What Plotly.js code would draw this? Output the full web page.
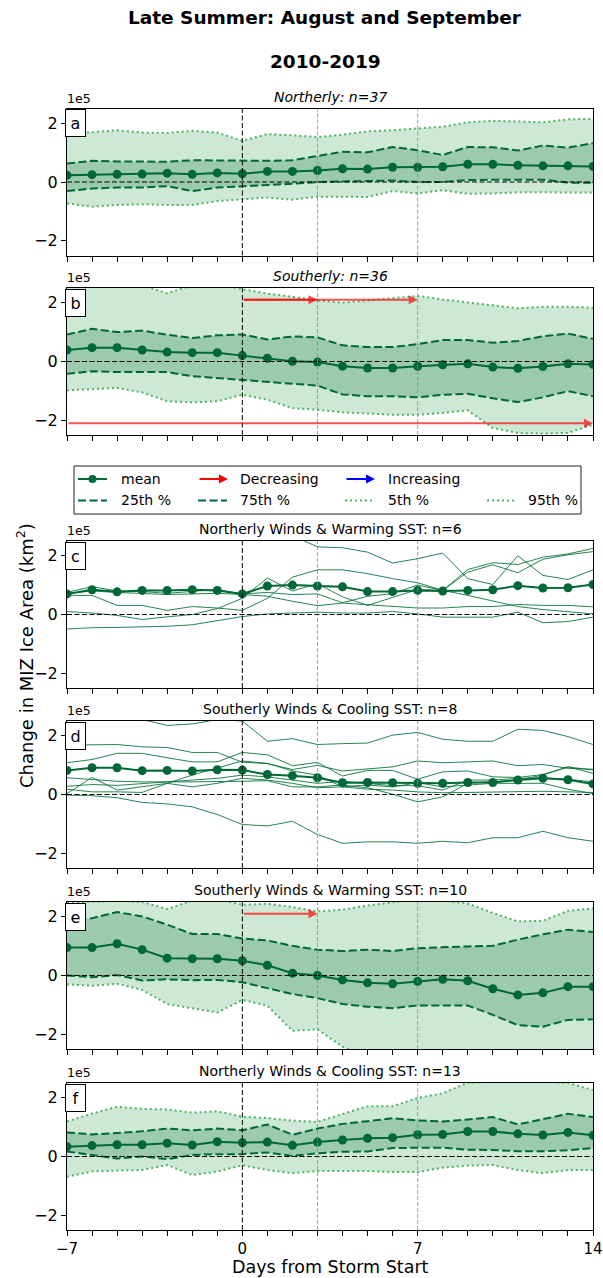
<!DOCTYPE html>
<html><head><meta charset="utf-8">
<script src="https://cdn.plot.ly/plotly-3.0.1.min.js"></script>
<style>html,body{margin:0;padding:0;background:#fff}#chart{width:603px;height:1278px}</style>
</head><body><div id="chart"></div>
<script>
const days = [-7,-6,-5,-4,-3,-2,-1,0,1,2,3,4,5,6,7,8,9,10,11,12,13,14];
const xTickVals = [-7,0,7,14];
const xTickText = ['−7','0','7','14'];
const yTickVals = [-2,0,2];
const yTickText = ['−2','0','2'];

// Panel a: Northerly
const aMean = [0.23,0.25,0.26,0.27,0.30,0.26,0.31,0.28,0.36,0.36,0.39,0.45,0.44,0.50,0.50,0.52,0.60,0.60,0.57,0.55,0.55,0.53];
const a75 = [0.63,0.72,0.70,0.70,0.69,0.74,0.73,0.72,0.72,0.74,0.89,1.03,1.01,1.19,1.08,0.92,1.19,1.18,1.07,1.24,1.17,1.32];
const a25 = [-0.31,-0.22,-0.19,-0.19,-0.14,-0.31,-0.19,-0.15,-0.10,-0.06,0.00,0.01,0.02,0.05,0.00,0.00,0.07,0.07,0.09,0.08,-0.02,-0.03];
const a95 = [1.63,1.70,1.76,1.68,1.67,1.74,1.68,1.40,1.63,1.59,1.53,1.61,1.72,1.76,1.83,1.88,2.03,2.08,2.06,2.03,2.13,2.15];
const a5 = [-0.73,-0.84,-0.78,-0.76,-0.78,-0.78,-0.65,-0.59,-0.53,-0.60,-0.50,-0.50,-0.51,-0.31,-0.39,-0.28,-0.40,-0.39,-0.35,-0.35,-0.35,-0.36];

// Panel b: Southerly
const bMean = [0.39,0.47,0.47,0.39,0.32,0.30,0.30,0.20,0.11,0.01,-0.02,-0.16,-0.22,-0.22,-0.16,-0.11,-0.08,-0.19,-0.23,-0.17,-0.08,-0.10];
const b75 = [0.92,1.11,1.00,1.05,0.91,0.80,0.89,0.92,0.75,0.85,0.82,0.55,0.49,0.49,0.59,0.73,0.73,0.64,0.70,0.86,0.95,0.77];
const b25 = [-0.42,-0.33,-0.36,-0.36,-0.36,-0.50,-0.56,-0.64,-0.70,-0.75,-0.82,-1.12,-1.18,-1.18,-1.22,-1.13,-1.10,-1.25,-1.38,-1.22,-1.01,-1.18];
const b95 = [2.70,2.70,2.70,2.59,2.32,2.59,2.65,2.46,2.31,2.20,2.08,2.00,2.08,2.14,2.23,2.11,2.02,1.91,1.81,1.86,1.86,1.83];
const b5 = [-0.98,-0.93,-0.90,-1.05,-1.35,-1.39,-1.35,-1.13,-1.30,-1.59,-1.64,-1.73,-1.77,-1.81,-1.81,-1.75,-1.66,-2.26,-2.43,-2.45,-2.43,-2.15];

// Panel c: Northerly Winds & Warming SST (individual events + mean)
const cMean = [0.70,0.84,0.77,0.82,0.82,0.84,0.82,0.70,0.97,1.00,0.97,0.94,0.78,0.78,0.82,0.80,0.82,0.84,0.98,0.90,0.91,1.02];
const c1 = [2.80,2.80,2.80,2.80,2.80,2.80,2.80,2.80,2.75,2.68,2.30,2.27,2.12,1.75,1.90,2.09,1.22,1.02,2.00,1.33,1.19,1.52];
const c2 = [0.65,0.65,0.31,0.31,0.14,0.27,0.22,0.14,0.55,1.27,1.52,1.52,1.39,1.22,1.08,0.82,0.65,0.45,0.27,0.17,0.10,0.02];
const c3 = [-0.49,-0.45,-0.44,-0.42,-0.40,-0.35,-0.20,-0.07,0.02,0.04,0.08,0.05,0.05,0.10,0.02,-0.09,-0.09,-0.09,0.08,-0.28,-0.24,-0.09];
const c4 = [0.10,0.05,-0.03,-0.17,-0.08,0.00,0.20,0.55,1.24,0.80,1.05,0.60,0.31,0.57,0.85,0.82,1.53,1.76,1.70,1.95,2.06,2.25];
const c5 = [0.75,0.95,0.80,0.78,0.72,0.78,0.85,0.70,0.75,0.68,0.70,0.40,0.62,0.71,1.00,0.82,1.44,1.69,1.42,1.88,2.03,2.14];
const c6 = [0.72,0.80,0.75,0.72,0.68,0.70,0.72,0.68,0.62,0.45,0.30,0.39,0.33,0.27,0.22,0.22,0.27,0.27,0.34,0.31,0.31,0.26];

// Panel d: Southerly Winds & Cooling SST
const dMean = [0.82,0.91,0.91,0.81,0.82,0.80,0.84,0.83,0.68,0.64,0.57,0.40,0.41,0.40,0.38,0.38,0.41,0.41,0.49,0.55,0.50,0.36];
const d1 = [2.70,2.70,2.70,2.55,2.35,2.40,2.55,2.50,1.81,1.90,1.70,1.73,1.75,2.02,2.11,1.88,1.81,1.81,2.22,2.18,1.97,1.70];
const d2 = [1.68,1.70,1.70,1.62,1.60,1.43,1.43,1.10,1.05,0.85,0.99,0.80,0.86,0.94,1.14,1.08,1.11,1.14,0.98,1.02,0.89,0.86];
const d3 = [1.08,1.19,1.40,1.40,1.25,1.11,1.11,1.43,1.35,0.98,1.09,0.63,0.82,0.82,0.52,0.77,0.80,0.60,0.58,0.68,0.94,0.72];
const d4 = [0.57,0.52,0.45,0.43,0.43,0.49,0.55,0.66,0.60,0.49,0.38,0.45,0.38,0.30,0.30,0.15,0.49,0.49,0.55,0.57,0.52,0.43];
const d5 = [0.28,0.34,0.31,0.36,0.43,0.43,0.43,0.45,0.47,0.26,0.26,0.32,0.23,0.01,-0.25,-0.08,0.38,0.43,0.49,0.66,0.94,0.83];
const d6 = [0.03,0.58,0.15,0.26,0.38,0.66,0.89,1.14,1.06,0.80,0.66,0.26,0.18,0.15,0.09,0.06,0.07,0.09,0.11,0.11,0.09,0.07];
const d7 = [0.18,0.09,0.09,0.07,0.38,0.26,0.38,0.55,0.49,0.38,0.23,0.26,0.32,0.26,0.40,0.26,0.32,0.38,0.38,0.38,0.18,0.03];
const d8 = [-0.02,-0.04,-0.11,-0.27,-0.32,-0.42,-0.68,-1.02,-1.07,-0.91,-1.36,-1.66,-1.61,-1.61,-1.66,-1.59,-1.64,-1.47,-1.47,-1.25,-1.47,-1.59];

// Panel e: Southerly Winds & Warming SST
const eMean = [0.95,0.95,1.08,0.88,0.59,0.57,0.57,0.50,0.35,0.08,0.00,-0.15,-0.25,-0.28,-0.20,-0.13,-0.18,-0.45,-0.66,-0.59,-0.38,-0.38];
const e75 = [1.84,1.95,2.16,2.01,1.73,1.41,1.41,1.26,1.19,1.01,0.88,0.83,0.88,0.83,0.93,0.97,0.99,1.01,1.22,1.40,1.56,1.48];
const e25 = [0.00,-0.06,0.02,-0.17,-0.13,-0.16,-0.15,-0.23,-0.43,-0.63,-0.77,-0.97,-1.06,-1.11,-1.02,-1.02,-1.02,-1.34,-1.69,-1.74,-1.51,-1.49];
const e95 = [2.47,2.50,2.55,2.50,2.26,2.55,2.60,2.41,2.44,2.33,2.18,2.24,2.38,2.49,2.60,2.55,2.45,2.13,1.84,1.86,2.20,2.28];
const e5 = [-0.30,-0.35,-0.28,-0.49,-0.97,-1.11,-1.26,-0.83,-1.03,-1.88,-1.83,-2.42,-2.75,-2.90,-3.00,-3.00,-3.00,-3.00,-3.00,-3.00,-3.00,-3.00];

// Panel f: Northerly Winds & Cooling SST
const fMean = [0.33,0.37,0.40,0.40,0.45,0.39,0.50,0.47,0.49,0.38,0.49,0.56,0.62,0.64,0.74,0.75,0.85,0.85,0.77,0.73,0.82,0.72];
const f75 = [0.82,0.75,0.80,0.86,0.95,0.89,0.95,0.89,1.09,0.74,0.95,1.11,1.20,1.30,1.23,1.19,1.26,1.34,1.09,1.26,1.45,1.34];
const f25 = [0.17,0.06,-0.07,0.00,-0.09,0.05,0.08,0.08,0.14,0.02,0.11,0.16,0.17,0.29,0.29,0.30,0.23,0.22,0.18,0.18,0.21,0.29];
const f95 = [1.19,1.46,1.69,1.62,1.60,1.49,1.54,1.35,1.31,1.22,1.18,1.45,1.71,1.71,1.99,2.15,2.51,2.55,2.55,2.55,2.50,2.26];
const f5 = [-0.69,-0.51,-0.48,-0.46,-0.29,-0.63,-0.51,-0.30,-0.46,-0.57,-0.49,-0.49,-0.49,-0.53,-0.53,-0.38,-0.31,-0.29,-0.46,-0.57,-0.46,-0.46];

// Arrows (start day, end day, level) for panels b and e
const bArrows = [[0,3,2.1],[0,7,2.1],[-7,14,-2.1]];
const eArrows = [[0,3,2.1]];

// ---------- styling / layout ----------
const W = 603, H = 1278, L = 67, R = 593;
const PH = 147;
const px2x = p => (p - L) / (R - L);
const px2y = p => 1 - p / H;
const DARK = '#006837';
const DOT = '#4fb264';
const OUTER = '#cde8d5';
const INNER = '#9ccaac';
const FONT = 'DejaVu Sans, sans-serif';
const ARROW_RED = 'rgba(255,0,0,0.68)';

const panels = [
  {letter:'a', title:'<i>Northerly: n=37</i>', top:108.5, mean:aMean, p5:a5, p25:a25, p75:a75, p95:a95, arrows:[]},
  {letter:'b', title:'<i>Southerly: n=36</i>', top:288, mean:bMean, p5:b5, p25:b25, p75:b75, p95:b95, arrows:bArrows},
  {letter:'c', title:'Northerly Winds &amp; Warming SST: n=6', top:541, mean:cMean, lines:[c1,c2,c3,c4,c5,c6], arrows:[]},
  {letter:'d', title:'Southerly Winds &amp; Cooling SST: n=8', top:721, mean:dMean, lines:[d1,d2,d3,d4,d5,d6,d7,d8], arrows:[]},
  {letter:'e', title:'Southerly Winds &amp; Warming SST: n=10', top:902, mean:eMean, p5:e5, p25:e25, p75:e75, p95:e95, arrows:eArrows},
  {letter:'f', title:'Northerly Winds &amp; Cooling SST: n=13', top:1083, mean:fMean, p5:f5, p25:f25, p75:f75, p95:f95, arrows:[]}
];

const traces = [];
const shapes = [];
const annotations = [];
const layout = {
  width: W, height: H,
  margin: {l: L, r: W - R, t: 0, b: 0},
  paper_bgcolor: '#fff', plot_bgcolor: '#fff',
  showlegend: false,
  font: {family: FONT, size: 14, color: '#000'}
};

panels.forEach((p, i) => {
  const n = i === 0 ? '' : String(i + 1);
  const xa = 'x' + n, ya = 'y' + n;
  const last = i === panels.length - 1;
  layout['xaxis' + n] = {
    domain: [0, 1], range: [-7, 14], anchor: ya,
    tickvals: xTickVals, ticktext: xTickText, showticklabels: last,
    ticklabeloverflow: 'allow',
    ticks: 'outside', ticklen: 5, tickwidth: 1, tickcolor: '#000',
    minor: {dtick: 1, tick0: 0, ticks: 'outside', ticklen: 5, tickwidth: 1, tickcolor: '#000'},
    showline: true, mirror: true, linecolor: '#000', linewidth: 1,
    showgrid: false, zeroline: false, fixedrange: true,
    tickfont: {size: 15, family: FONT}
  };
  layout['yaxis' + n] = {
    domain: [px2y(p.top + PH), px2y(p.top)], range: [-2.5, 2.5], anchor: xa,
    tickvals: yTickVals, ticktext: yTickText,
    ticks: 'outside', ticklen: 5, tickwidth: 1, tickcolor: '#000',
    showline: true, mirror: true, linecolor: '#000', linewidth: 1,
    showgrid: false, zeroline: false, fixedrange: true,
    tickfont: {size: 16, family: FONT}
  };
  const base = {x: days, xaxis: xa, yaxis: ya, hoverinfo: 'skip', showlegend: false};
  if (p.p5) {
    traces.push(Object.assign({}, base, {y: p.p5, mode: 'lines', line: {width: 0}}));
    traces.push(Object.assign({}, base, {y: p.p95, mode: 'lines', line: {width: 0}, fill: 'tonexty', fillcolor: OUTER}));
    traces.push(Object.assign({}, base, {y: p.p25, mode: 'lines', line: {width: 0}}));
    traces.push(Object.assign({}, base, {y: p.p75, mode: 'lines', line: {width: 0}, fill: 'tonexty', fillcolor: INNER}));
    traces.push(Object.assign({}, base, {y: p.p5, mode: 'lines', line: {color: DOT, width: 2, dash: '2px,3px'}}));
    traces.push(Object.assign({}, base, {y: p.p95, mode: 'lines', line: {color: DOT, width: 2, dash: '2px,3px'}}));
    traces.push(Object.assign({}, base, {y: p.p25, mode: 'lines', line: {color: DARK, width: 2, dash: '8px,3.5px'}}));
    traces.push(Object.assign({}, base, {y: p.p75, mode: 'lines', line: {color: DARK, width: 2, dash: '8px,3.5px'}}));
  }
  if (p.lines) {
    p.lines.forEach(l => traces.push(Object.assign({}, base, {y: l, mode: 'lines', line: {color: 'rgba(0,110,50,0.85)', width: 1}})));
  }
  traces.push(Object.assign({}, base, {y: p.mean, mode: 'lines+markers', line: {color: DARK, width: 2}, marker: {color: DARK, size: 9}, cliponaxis: true}));

  // reference lines
  shapes.push({type: 'line', xref: xa + ' domain', yref: ya, x0: 0, x1: 1, y0: 0, y1: 0, line: {color: '#000', width: 1, dash: '5px,2.5px'}, layer: 'above'});
  shapes.push({type: 'line', xref: xa, yref: ya + ' domain', x0: 0, x1: 0, y0: 0, y1: 1, line: {color: '#000', width: 1, dash: '5px,2.5px'}, layer: 'above'});
  [3, 7].forEach(v => shapes.push({type: 'line', xref: xa, yref: ya + ' domain', x0: v, x1: v, y0: 0, y1: 1, line: {color: '#8a8a8a', width: 0.8, dash: '4px,2px'}, layer: 'above'}));

  // arrows
  p.arrows.forEach(a => annotations.push({
    xref: xa, yref: ya, axref: xa, ayref: ya, x: a[1], y: a[2], ax: a[0], ay: a[2],
    text: '', showarrow: true, arrowhead: 2, arrowsize: 1, arrowwidth: 1.8, arrowcolor: ARROW_RED, standoff: 0, startstandoff: 0
  }));

  // panel title
  annotations.push({xref: 'paper', yref: 'paper', x: px2x(330), y: px2y(p.top - 12), xanchor: 'center', yanchor: 'middle',
    text: p.title, showarrow: false, font: {size: 14, family: FONT}});
  // 1e5 offset label
  annotations.push({xref: 'paper', yref: 'paper', x: px2x(65), y: px2y(p.top - 1), xanchor: 'left', yanchor: 'bottom',
    text: '1e5', showarrow: false, font: {size: 12.5, family: FONT}});
  // letter box
  annotations.push({xref: 'paper', yref: 'paper', x: px2x(65), y: px2y(p.top + 1), xanchor: 'left', yanchor: 'top',
    text: p.letter, showarrow: false, font: {size: 16, family: FONT}, bgcolor: '#fff', bordercolor: '#000', borderwidth: 1,
    borderpad: 2, width: 15, height: 22});
});

// main titles
annotations.push({xref: 'paper', yref: 'paper', x: px2x(325), y: px2y(18), xanchor: 'center', yanchor: 'middle',
  text: '<b>Late Summer: August and September</b>', showarrow: false, font: {size: 18.5, family: FONT}});
annotations.push({xref: 'paper', yref: 'paper', x: px2x(325), y: px2y(61), xanchor: 'center', yanchor: 'middle',
  text: '<b>2010-2019</b>', showarrow: false, font: {size: 18.5, family: FONT}});
// axis titles
annotations.push({xref: 'paper', yref: 'paper', x: px2x(330), y: px2y(1267), xanchor: 'center', yanchor: 'middle',
  text: 'Days from Storm Start', showarrow: false, font: {size: 17.5, family: FONT}});
annotations.push({xref: 'paper', yref: 'paper', x: px2x(25), y: px2y(656), xanchor: 'center', yanchor: 'middle', textangle: -90,
  text: 'Change in MIZ Ice Area (km<sup>2</sup>)', showarrow: false, font: {size: 18, family: FONT}});

// legend
const ly1 = 479, ly2 = 500.5;
shapes.push({type: 'rect', xref: 'paper', yref: 'paper', x0: px2x(74), x1: px2x(581), y0: px2y(514), y1: px2y(466), line: {color: '#222', width: 1}, fillcolor: '#fff', layer: 'above'});
shapes.push({type: 'line', xref: 'paper', yref: 'paper', x0: px2x(78), x1: px2x(107), y0: px2y(ly1), y1: px2y(ly1), line: {color: DARK, width: 2}, layer: 'above'});
shapes.push({type: 'circle', xref: 'paper', yref: 'paper', x0: px2x(88.5), x1: px2x(96.5), y0: px2y(483), y1: px2y(475), line: {color: DARK, width: 0}, fillcolor: DARK, layer: 'above'});
shapes.push({type: 'line', xref: 'paper', yref: 'paper', x0: px2x(78), x1: px2x(107), y0: px2y(ly2), y1: px2y(ly2), line: {color: DARK, width: 2, dash: '8px,3.5px'}, layer: 'above'});
shapes.push({type: 'line', xref: 'paper', yref: 'paper', x0: px2x(198), x1: px2x(227), y0: px2y(ly2), y1: px2y(ly2), line: {color: DARK, width: 2, dash: '8px,3.5px'}, layer: 'above'});
shapes.push({type: 'line', xref: 'paper', yref: 'paper', x0: px2x(345), x1: px2x(375), y0: px2y(ly2), y1: px2y(ly2), line: {color: DOT, width: 2, dash: '2px,3px'}, layer: 'above'});
shapes.push({type: 'line', xref: 'paper', yref: 'paper', x0: px2x(487), x1: px2x(516), y0: px2y(ly2), y1: px2y(ly2), line: {color: DOT, width: 2, dash: '2px,3px'}, layer: 'above'});
annotations.push({xref: 'paper', yref: 'paper', x: px2x(228), y: px2y(ly1), ax: -30, ay: 0, text: '', showarrow: true,
  arrowhead: 2, arrowsize: 1, arrowwidth: 1.8, arrowcolor: '#ff0000', standoff: 0});
annotations.push({xref: 'paper', yref: 'paper', x: px2x(375), y: px2y(ly1), ax: -30, ay: 0, text: '', showarrow: true,
  arrowhead: 2, arrowsize: 1, arrowwidth: 1.8, arrowcolor: '#0000ff', standoff: 0});
[['mean', 119, ly1], ['Decreasing', 238, ly1], ['Increasing', 385.5, ly1],
 ['25th %', 119, ly2], ['75th %', 238, ly2], ['5th %', 385.5, ly2], ['95th %', 526, ly2]].forEach(t =>
  annotations.push({xref: 'paper', yref: 'paper', x: px2x(t[1]), y: px2y(t[2]), xanchor: 'left', yanchor: 'middle',
    text: t[0], showarrow: false, font: {size: 14, family: FONT}}));

layout.shapes = shapes;
layout.annotations = annotations;
Plotly.newPlot('chart', traces, layout, {displayModeBar: false, staticPlot: true});
</script></body></html>
